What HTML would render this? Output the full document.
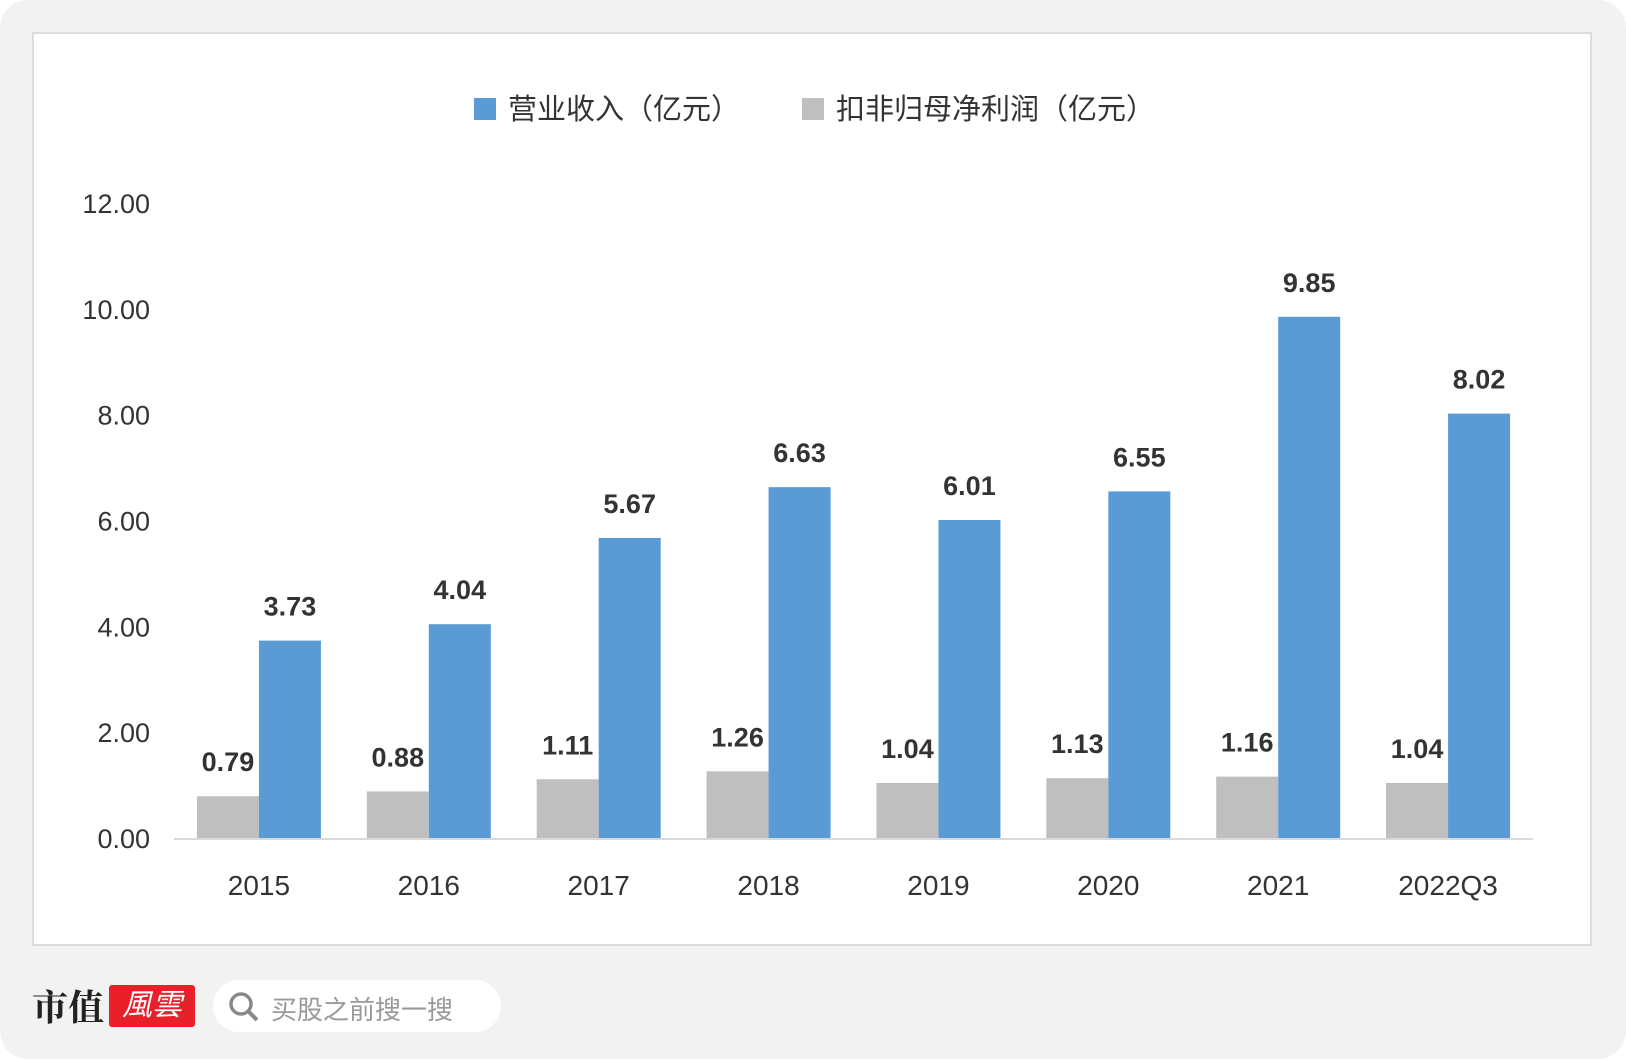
<!DOCTYPE html>
<html><head><meta charset="utf-8"><style>
body{margin:0;width:1626px;height:1059px;background:#fff;overflow:hidden;font-family:"Liberation Sans","Noto Sans CJK SC",sans-serif}
#bg{position:absolute;left:0;top:0;width:1626px;height:1059px;background:#f2f2f2;border-radius:28px}
#panel{position:absolute;left:32px;top:32px;width:1560px;height:914px;background:#fff;border:2px solid #dcdcdc;box-sizing:border-box}
svg text{font-family:"Liberation Sans","Noto Sans CJK SC",sans-serif}
</style></head><body>
<div id="bg"></div>
<div id="panel"></div>
<svg id="chart" width="1626" height="1059" style="position:absolute;left:0;top:0">
<g>
<rect x="474" y="98" width="22" height="22" fill="#5b9bd5"/>
<text x="508" y="119" font-size="29" fill="#333">营业收入（亿元）</text>
<rect x="802" y="98" width="22" height="22" fill="#bfbfbf"/>
<text x="836" y="119" font-size="29" fill="#333">扣非归母净利润（亿元）</text>
</g>
<g id="axes"></g><g id="bars"></g>
</svg>
<div style="position:absolute;left:32px;top:985px;font-size:36px;font-weight:bold;color:#222;font-family:'Noto Serif CJK SC',serif;line-height:42px">市值</div>
<div style="position:absolute;left:109px;top:985px;width:86px;height:42px;background:#e8202a;border-radius:3px;color:#fff;font-size:30px;font-style:italic;text-align:center;line-height:42px">風雲</div>
<div style="position:absolute;left:213px;top:980px;width:288px;height:52px;background:#fff;border-radius:26px">
<svg width="34" height="34" style="position:absolute;left:14px;top:10px"><circle cx="14" cy="14" r="10" stroke="#888" stroke-width="3.5" fill="none"/><line x1="21" y1="21" x2="30" y2="30" stroke="#888" stroke-width="4"/></svg>
<span style="position:absolute;left:58px;top:10px;font-size:26px;color:#999">买股之前搜一搜</span>
</div>
<script>
const categories=["2015","2016","2017","2018","2019","2020","2021","2022Q3"];
const profit=[0.79,0.88,1.11,1.26,1.04,1.13,1.16,1.04];
const revenue=[3.73,4.04,5.67,6.63,6.01,6.55,9.85,8.02];
const yTicks=[0,2,4,6,8,10,12];
const NS="http://www.w3.org/2000/svg";
const x0=174,x1=1533,yBase=838,yTop=203,yMax=12,bw=62;
const band=(x1-x0)/categories.length;
const y=v=>yBase-(v/yMax)*(yBase-yTop);
const cx=i=>x0+band*(i+0.5);
function mk(tag,attrs,parent,txt){const e=document.createElementNS(NS,tag);for(const k in attrs)e.setAttribute(k,attrs[k]);if(txt!==undefined)e.textContent=txt;parent.appendChild(e);return e;}
const axes=document.getElementById('axes'),bars=document.getElementById('bars');
yTicks.forEach(t=>{const e=mk('text',{x:150,y:y(t)+10,'text-anchor':'end','font-size':27,fill:'#333'},axes,t.toFixed(2));

});
const ax=mk('line',{x1:x0,x2:x1,y1:yBase+1,y2:yBase+1,stroke:'#d9d9d9','stroke-width':2},axes);


categories.forEach((c,i)=>{
const gx=cx(i)-bw,bx=cx(i);
const g=mk('rect',{x:gx,y:y(profit[i]),width:bw,height:yBase-y(profit[i]),fill:'#bfbfbf'},bars);


const b=mk('rect',{x:bx,y:y(revenue[i]),width:bw,height:yBase-y(revenue[i]),fill:'#5b9bd5'},bars);


const l1=mk('text',{x:gx+bw/2,y:y(profit[i])-25,'text-anchor':'middle','font-size':27,'font-weight':'bold',fill:'#333'},bars,profit[i].toFixed(2));


const l2=mk('text',{x:bx+bw/2,y:y(revenue[i])-25,'text-anchor':'middle','font-size':27,'font-weight':'bold',fill:'#333'},bars,revenue[i].toFixed(2));


const xl=mk('text',{x:cx(i),y:895,'text-anchor':'middle','font-size':28,fill:'#333'},axes,c);


});
</script>
</body></html>
